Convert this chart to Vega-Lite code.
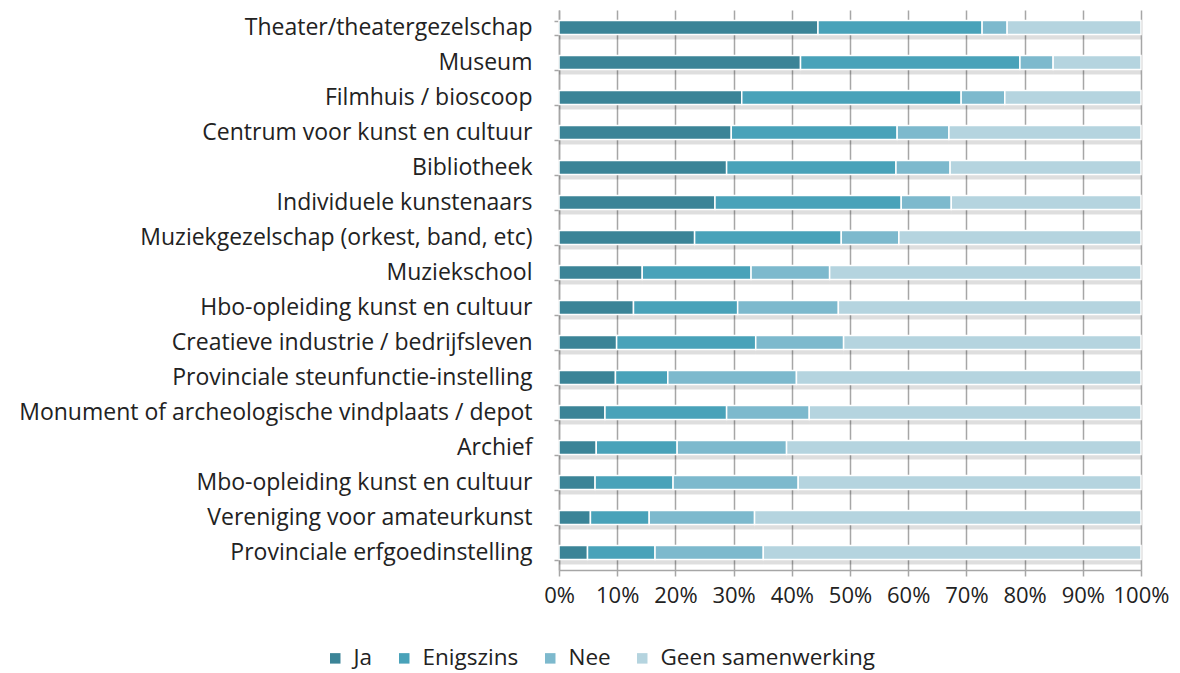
{
  "$schema": "https://vega.github.io/schema/vega-lite/v6.json",
  "width": 582,
  "height": 560,
  "autosize": "none",
  "padding": {"left": 559, "top": 10, "right": 39, "bottom": 103},
  "background": "white",
  "config": {"view": {"stroke": null}, "font": "Open Sans"},
  "data": {"values": [
    {"c": "Theater/theatergezelschap", "s": "Ja", "v": 44.5},
    {"c": "Theater/theatergezelschap", "s": "Enigszins", "v": 28.2},
    {"c": "Theater/theatergezelschap", "s": "Nee", "v": 4.3},
    {"c": "Theater/theatergezelschap", "s": "Geen samenwerking", "v": 23.0},
    {"c": "Museum", "s": "Ja", "v": 41.5},
    {"c": "Museum", "s": "Enigszins", "v": 37.7},
    {"c": "Museum", "s": "Nee", "v": 5.7},
    {"c": "Museum", "s": "Geen samenwerking", "v": 15.1},
    {"c": "Filmhuis / bioscoop", "s": "Ja", "v": 31.4},
    {"c": "Filmhuis / bioscoop", "s": "Enigszins", "v": 37.7},
    {"c": "Filmhuis / bioscoop", "s": "Nee", "v": 7.5},
    {"c": "Filmhuis / bioscoop", "s": "Geen samenwerking", "v": 23.4},
    {"c": "Centrum voor kunst en cultuur", "s": "Ja", "v": 29.6},
    {"c": "Centrum voor kunst en cultuur", "s": "Enigszins", "v": 28.5},
    {"c": "Centrum voor kunst en cultuur", "s": "Nee", "v": 8.9},
    {"c": "Centrum voor kunst en cultuur", "s": "Geen samenwerking", "v": 33.0},
    {"c": "Bibliotheek", "s": "Ja", "v": 28.8},
    {"c": "Bibliotheek", "s": "Enigszins", "v": 29.1},
    {"c": "Bibliotheek", "s": "Nee", "v": 9.3},
    {"c": "Bibliotheek", "s": "Geen samenwerking", "v": 32.8},
    {"c": "Individuele kunstenaars", "s": "Ja", "v": 26.8},
    {"c": "Individuele kunstenaars", "s": "Enigszins", "v": 32.0},
    {"c": "Individuele kunstenaars", "s": "Nee", "v": 8.6},
    {"c": "Individuele kunstenaars", "s": "Geen samenwerking", "v": 32.6},
    {"c": "Muziekgezelschap (orkest, band, etc)", "s": "Ja", "v": 23.3},
    {"c": "Muziekgezelschap (orkest, band, etc)", "s": "Enigszins", "v": 25.2},
    {"c": "Muziekgezelschap (orkest, band, etc)", "s": "Nee", "v": 9.9},
    {"c": "Muziekgezelschap (orkest, band, etc)", "s": "Geen samenwerking", "v": 41.6},
    {"c": "Muziekschool", "s": "Ja", "v": 14.3},
    {"c": "Muziekschool", "s": "Enigszins", "v": 18.7},
    {"c": "Muziekschool", "s": "Nee", "v": 13.5},
    {"c": "Muziekschool", "s": "Geen samenwerking", "v": 53.5},
    {"c": "Hbo-opleiding kunst en cultuur", "s": "Ja", "v": 12.8},
    {"c": "Hbo-opleiding kunst en cultuur", "s": "Enigszins", "v": 17.9},
    {"c": "Hbo-opleiding kunst en cultuur", "s": "Nee", "v": 17.3},
    {"c": "Hbo-opleiding kunst en cultuur", "s": "Geen samenwerking", "v": 52.0},
    {"c": "Creatieve industrie / bedrijfsleven", "s": "Ja", "v": 9.9},
    {"c": "Creatieve industrie / bedrijfsleven", "s": "Enigszins", "v": 23.9},
    {"c": "Creatieve industrie / bedrijfsleven", "s": "Nee", "v": 15.1},
    {"c": "Creatieve industrie / bedrijfsleven", "s": "Geen samenwerking", "v": 51.1},
    {"c": "Provinciale steunfunctie-instelling", "s": "Ja", "v": 9.7},
    {"c": "Provinciale steunfunctie-instelling", "s": "Enigszins", "v": 9.0},
    {"c": "Provinciale steunfunctie-instelling", "s": "Nee", "v": 22.1},
    {"c": "Provinciale steunfunctie-instelling", "s": "Geen samenwerking", "v": 59.2},
    {"c": "Monument of archeologische vindplaats / depot", "s": "Ja", "v": 7.9},
    {"c": "Monument of archeologische vindplaats / depot", "s": "Enigszins", "v": 20.9},
    {"c": "Monument of archeologische vindplaats / depot", "s": "Nee", "v": 14.2},
    {"c": "Monument of archeologische vindplaats / depot", "s": "Geen samenwerking", "v": 57.0},
    {"c": "Archief", "s": "Ja", "v": 6.4},
    {"c": "Archief", "s": "Enigszins", "v": 13.9},
    {"c": "Archief", "s": "Nee", "v": 18.8},
    {"c": "Archief", "s": "Geen samenwerking", "v": 60.9},
    {"c": "Mbo-opleiding kunst en cultuur", "s": "Ja", "v": 6.2},
    {"c": "Mbo-opleiding kunst en cultuur", "s": "Enigszins", "v": 13.4},
    {"c": "Mbo-opleiding kunst en cultuur", "s": "Nee", "v": 21.5},
    {"c": "Mbo-opleiding kunst en cultuur", "s": "Geen samenwerking", "v": 58.9},
    {"c": "Vereniging voor amateurkunst", "s": "Ja", "v": 5.4},
    {"c": "Vereniging voor amateurkunst", "s": "Enigszins", "v": 10.1},
    {"c": "Vereniging voor amateurkunst", "s": "Nee", "v": 18.1},
    {"c": "Vereniging voor amateurkunst", "s": "Geen samenwerking", "v": 66.4},
    {"c": "Provinciale erfgoedinstelling", "s": "Ja", "v": 4.9},
    {"c": "Provinciale erfgoedinstelling", "s": "Enigszins", "v": 11.6},
    {"c": "Provinciale erfgoedinstelling", "s": "Nee", "v": 18.6},
    {"c": "Provinciale erfgoedinstelling", "s": "Geen samenwerking", "v": 64.9}
  ]},
  "transform": [
    {"calculate": "indexof(['Ja','Enigszins','Nee','Geen samenwerking'], datum.s)", "as": "ord"}
  ],
  "encoding": {
    "y": {
      "field": "c", "type": "nominal", "sort": null,
      "scale": {"paddingInner": 0.6, "paddingOuter": 0.3},
      "axis": {
        "title": null, "labelFontSize": 23, "labelColor": "#222", "labelPadding": 22,
        "tickBand": "extent", "tickSize": 5, "tickColor": "#a6a6a6", "tickWidth": 1.5,
        "domainColor": "#a6a6a6", "domainWidth": 1.5, "labelLimit": 700
      }
    },
    "x": {
      "field": "v", "type": "quantitative", "stack": "zero",
      "scale": {"domain": [0, 100], "nice": false},
      "axis": {
        "title": null, "values": [0,10,20,30,40,50,60,70,80,90,100],
        "labelExpr": "datum.value + '%'", "labelFontSize": 22, "labelColor": "#222",
        "labelOverlap": false, "labelFlush": false,
        "labelPadding": 9, "tickSize": 6, "tickColor": "#a6a6a6", "tickWidth": 1.5,
        "domainColor": "#a6a6a6", "domainWidth": 1.5,
        "grid": true, "gridColor": "#a6a6a6", "gridWidth": 1.5
      }
    },
    "order": {"field": "ord", "type": "quantitative"}
  },
  "layer": [
    {
      "mark": {"type": "bar", "color": "#000", "opacity": 0.13, "yOffset": 5},
      "encoding": {"detail": {"field": "s"}}
    },
    {
      "mark": {"type": "bar", "stroke": "white", "strokeWidth": 1.5},
      "encoding": {
        "color": {
          "field": "s", "type": "nominal",
          "sort": ["Ja", "Enigszins", "Nee", "Geen samenwerking"],
          "scale": {"domain": ["Ja", "Enigszins", "Nee", "Geen samenwerking"],
                    "range": ["#3b8497", "#49a2b9", "#7db9cd", "#b5d4df"]},
          "legend": {
            "title": null, "orient": "none", "direction": "horizontal",
            "legendX": -235, "legendY": 637, "symbolType": "square", "symbolSize": 110,
            "symbolStrokeWidth": 0, "labelFontSize": 22.5, "labelColor": "#222",
            "columnPadding": 20, "labelOffset": 7, "labelLimit": 400
          }
        }
      }
    }
  ]
}
